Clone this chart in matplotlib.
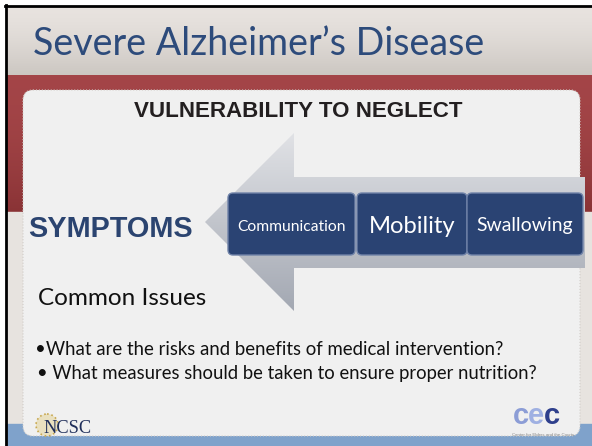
import matplotlib
matplotlib.use("Agg")
import matplotlib.pyplot as plt
import numpy as np
from matplotlib.patches import Rectangle, FancyBboxPatch, Polygon, Circle

# slide texts
title = "Severe Alzheimer\u2019s Disease"
heading = "VULNERABILITY TO NEGLECT"
arrow_label = "SYMPTOMS"
box_labels = ["Communication", "Mobility", "Swallowing"]
section = "Common Issues"
bullets = ["\u2022What are the risks and benefits of medical intervention?",
           "\u2022 What measures should be taken to ensure proper nutrition?"]

W, H = 592, 446
fig = plt.figure(figsize=(W / 100, H / 100), dpi=100)
ax = fig.add_axes([0, 0, 1, 1])
ax.set_xlim(0, W)
ax.set_ylim(H, 0)
ax.axis("off")
renderer = fig.canvas.get_renderer()


def fit(x, y, s, width, ha="left", **kw):
    # scale the font so the text is as wide as in the slide
    t = ax.text(x, y, s, fontsize=10, ha=ha, va="baseline", **kw)
    bb = t.get_window_extent(renderer)
    t.set_fontsize(10 * width / bb.width)
    return t


def vgrad(c_top, c_bot, extent, z, power=1.0):
    g = np.linspace(0, 1, 100).reshape(-1, 1) ** power
    a, b = np.array(c_top), np.array(c_bot)
    return ax.imshow(a + (b - a) * g[..., None], extent=extent,
                     aspect="auto", zorder=z)


# background bands
ax.add_patch(Rectangle((0, 0), W, H, color="white", zorder=0))
vgrad([0.91, 0.89, 0.875], [0.80, 0.78, 0.76], (6, W, 75, 6), 1, 1.5)
vgrad([0.64, 0.27, 0.28], [0.54, 0.20, 0.21], (6, W, 212, 75), 1, 2.0)
ax.add_patch(Rectangle((6, 212), W, 212, color="#E7E3DF", zorder=1))
ax.add_patch(Rectangle((6, 424), W, 30, color="#7FA2CB", zorder=1))
# black frame on the left and top
ax.plot([6, 6], [5, H], color="black", lw=2, zorder=5)
ax.plot([5, W], [5.5, 5.5], color="black", lw=2, zorder=5)

# white panel
ax.add_patch(FancyBboxPatch((23 + 10, 90 + 10), 557 - 20, 346 - 20,
                            boxstyle="round,pad=10", fc="#F0F0F0",
                            ec="#D0CCC8", lw=0.8, ls=":", zorder=2))

# big grey arrow
arrow_pts = [(205, 222), (294, 133), (294, 177), (585, 177),
             (585, 268), (294, 268), (294, 311)]
arr = Polygon(arrow_pts, closed=True, fc="none", ec="none", zorder=3)
ax.add_patch(arr)
im = vgrad([0.88, 0.885, 0.90], [0.64, 0.66, 0.70], (205, 585, 311, 133), 3)
im.set_clip_path(arr)

# blue boxes
box_x = [(228, 355), (357, 467), (467, 583)]
box_w = [109, 87, 96]
for (x0, x1), lab, tw in zip(box_x, box_labels, box_w):
    ax.add_patch(FancyBboxPatch((x0 + 5, 198), x1 - x0 - 10, 52,
                                boxstyle="round,pad=5", fc="#2A4373",
                                ec="#6F82A8", lw=1.0, zorder=4))
    fit((x0 + x1) / 2, 231 if lab != "Mobility" else 233, lab, tw,
        ha="center", color="white", family="Lato", zorder=6)

# texts
fit(33, 55, title, 451, color="#2D4B7B", family="Lato")
fit(298, 117, heading, 327, ha="center", color="#231F20",
    family="Liberation Sans", weight="bold")
fit(28, 237, arrow_label, 164, color="#2B4470",
    family="Liberation Sans", weight="bold")
fit(38, 305, section, 168, color="#111111", family="Lato")
fit(35, 355, bullets[0], 470, color="#111111", family="Lato")
fit(37, 379, bullets[1], 503, color="#111111", family="Lato")

# logos
ax.add_patch(Circle((47, 425), 11, fc="#E9E0C0", ec="#C8A850", lw=1.2,
                    ls=":", zorder=5))
fit(43, 433, "NCSC", 48, color="#1F2E5A", family="Liberation Serif", zorder=6)
for x, ch, col in [(513, "c", "#8C9DD6"), (528, "e", "#9FB0E2"),
                   (544, "c", "#2E3F8C")]:
    ax.text(x, 424, ch, fontsize=21, color=col, family="Liberation Sans",
            weight="bold", va="baseline", zorder=6)
fit(512, 436, "Center for Elders and the Courts", 63, color="#888888",
    family="Liberation Sans", zorder=6)

fig.savefig("out.png", dpi=100)
